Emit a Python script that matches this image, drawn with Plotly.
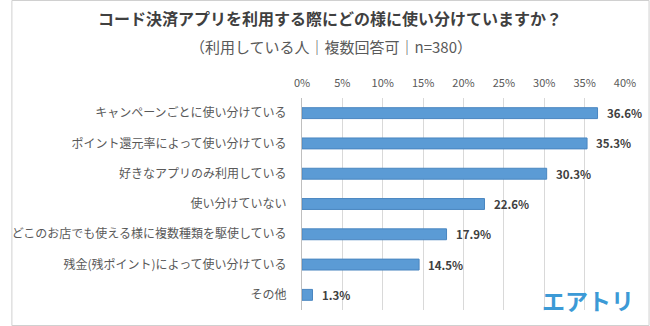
import plotly.graph_objects as go

categories = [
    "キャンペーンごとに使い分けている",
    "ポイント還元率によって使い分けている",
    "好きなアプリのみ利用している",
    "使い分けていない",
    "どこのお店でも使える様に複数種類を駆使している",
    "残金(残ポイント)によって使い分けている",
    "その他",
]
values = [36.6, 35.3, 30.3, 22.6, 17.9, 14.5, 1.3]
tick_vals = [0, 5, 10, 15, 20, 25, 30, 35, 40]
tick_text = [f"{v}%" for v in tick_vals]

title = "コード決済アプリを利用する際にどの様に使い分けていますか？"
subtitle = "（利用している人｜複数回答可｜n=380）"

W, H = 650, 326
ML, MR, MT, MB = 296, 25, 98, 16
JP = "Noto Sans CJK JP"

fig = go.Figure(go.Bar(
    x=values, y=categories, orientation="h",
    marker=dict(color="#5B9BD5", line=dict(color="#4A86C0", width=1)),
    width=0.36,
))

for v, c in zip(values, categories):
    fig.add_annotation(x=v, y=c, xref="x", yref="y", text=f"<b>{v:.1f}%</b>",
                       showarrow=False, xanchor="left", yanchor="middle", xshift=7,
                       font=dict(family=JP, size=11.5, color="#404040"))

fig.update_layout(
    width=W, height=H,
    margin=dict(l=ML, r=MR, t=MT, b=MB),
    paper_bgcolor="white", plot_bgcolor="white",
    showlegend=False,
    xaxis=dict(range=[0, 40], tickvals=tick_vals, ticktext=tick_text, side="top",
               showgrid=True, gridcolor="#D9D9D9", gridwidth=1, zeroline=False,
               tickfont=dict(family=JP, size=11, color="#595959"),
               ticks="", showline=False, fixedrange=True, ticklabelstandoff=8),
    yaxis=dict(autorange="reversed", showline=True, linecolor="#BFBFBF", linewidth=1,
               ticks="", ticklabelstandoff=12,
               tickfont=dict(family=JP, size=12, color="#595959"), fixedrange=True),
    font=dict(family=JP),
)

def px_x(x):
    return (x - ML) / (W - ML - MR)

def px_y(y):
    return 1 - (y - MT) / (H - MT - MB)

fig.add_annotation(text=f"<b>{title}</b>", x=px_x(325), y=px_y(18), xref="paper", yref="paper",
                   showarrow=False, font=dict(family=JP, size=16, color="#404040"),
                   xanchor="center", yanchor="middle")
fig.add_annotation(text=subtitle, x=px_x(326), y=px_y(46), xref="paper", yref="paper",
                   showarrow=False, font=dict(family=JP, size=15, color="#595959"),
                   xanchor="center", yanchor="middle")
fig.add_annotation(text="<b>エアトリ</b>", x=px_x(636), y=px_y(300), xref="paper", yref="paper",
                   showarrow=False, font=dict(family=JP, size=23, color="#3C9AD6"),
                   xanchor="right", yanchor="middle")
fig.add_shape(type="rect", xref="paper", yref="paper",
              x0=px_x(0.5), x1=px_x(649.5), y0=px_y(0.5), y1=px_y(325.5),
              line=dict(color="#D0D0D0", width=1))

fig.write_html("out.html")
